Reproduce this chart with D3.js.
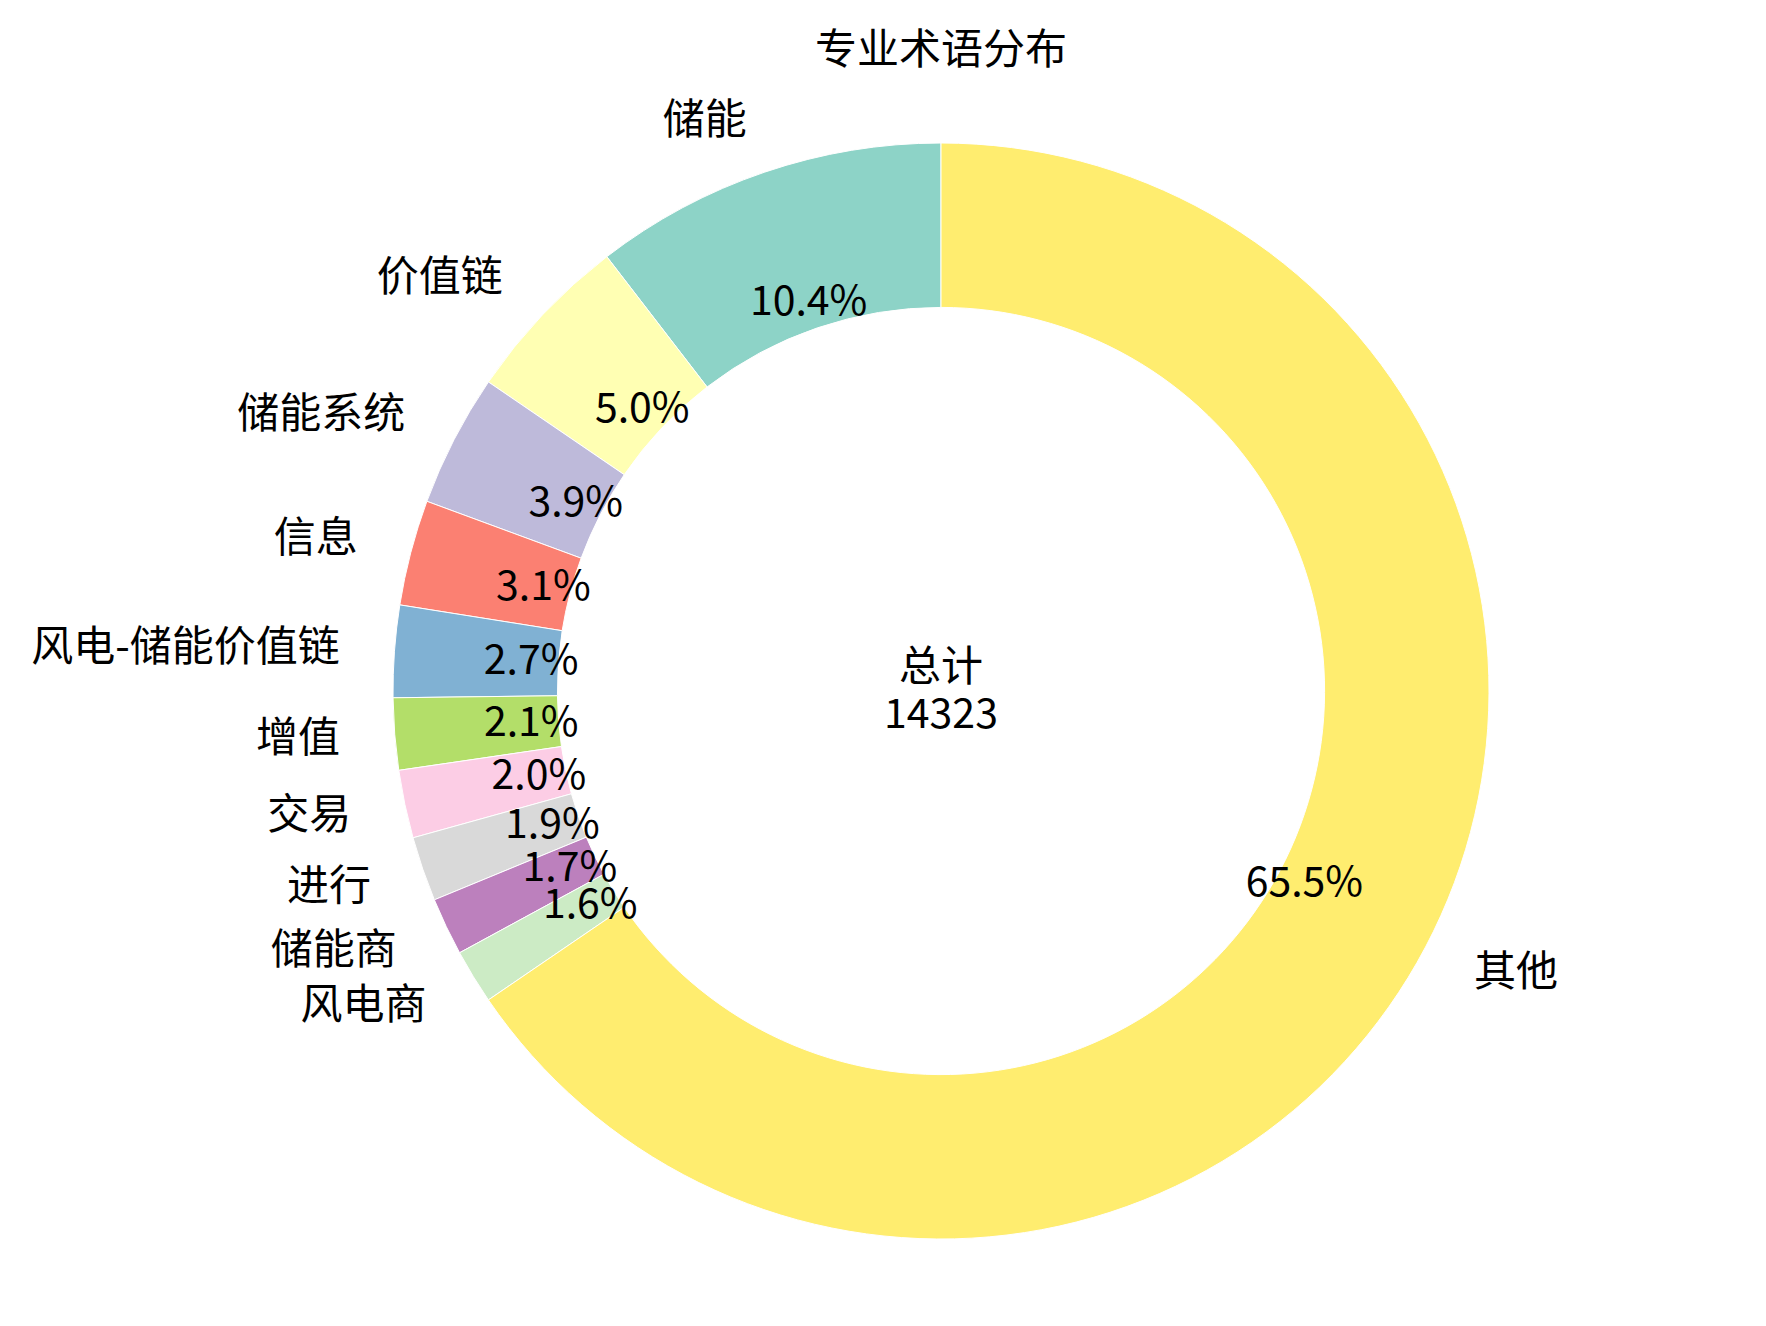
<!DOCTYPE html>
<html>
<head>
<meta charset="utf-8">
<script src="https://cdn.jsdelivr.net/npm/d3@7"></script>
<style>
  html, body { margin: 0; padding: 0; background: #fff; }
  svg { display: block; font-family: "Noto Sans CJK SC", "Noto Sans", sans-serif; }
</style>
</head>
<body>
<svg id="chart" width="1766" height="1326"></svg>
<script>
const categories = ["储能", "价值链", "储能系统", "信息", "风电-储能价值链", "增值", "交易", "进行", "储能商", "风电商", "其他"];
const counts = [1495, 720, 560, 446, 388, 303, 287, 273, 244, 230, 9377];
const colors = ["#8dd3c7", "#ffffb3", "#bebada", "#fb8072", "#80b1d3", "#b3de69", "#fccde5", "#d9d9d9", "#bc80bd", "#ccebc5", "#ffed6f"];
const title = "专业术语分布";
const totalLabel = "总计";

const WIDTH = 1766;
const HEIGHT = 1326;
const CX = 941;
const CY = 691;
const RADIUS = 548;
const INNER = RADIUS * 0.7;
const PCT_DIST = 0.75;
const LABEL_DIST = 1.1;
const LABEL_SIZE = 42;
const NUM_SIZE = 41;
const DY = -5; // nudge up, noto's central sits a bit low

const data = categories.map((c, i) => ({ category: c, count: counts[i], color: colors[i] }));
const total = d3.sum(counts);

// counterclockwise from 12 o'clock, like matplotlib startangle=90
const pieData = d3.pie().value(d => d.count).sort(null)
  .startAngle(0).endAngle(-2 * Math.PI)(data);
const arc = d3.arc().innerRadius(INNER).outerRadius(RADIUS);

const svg = d3.select("#chart");

const g = svg.append("g")
  .attr("transform", `translate(${CX}, ${CY})`);

g.selectAll("path")
  .data(pieData)
  .join("path")
  .attr("d", arc)
  .attr("fill", d => d.data.color)
  .attr("stroke", "white")
  .attr("stroke-width", 1);

const midAngle = d => (d.startAngle + d.endAngle) / 2;
const pos = (d, r) => [r * Math.sin(midAngle(d)), -r * Math.cos(midAngle(d))];

g.selectAll(".pct")
  .data(pieData)
  .join("text")
  .attr("class", "pct")
  .attr("x", d => pos(d, RADIUS * PCT_DIST)[0])
  .attr("y", d => pos(d, RADIUS * PCT_DIST)[1] + DY)
  .attr("text-anchor", "middle")
  .attr("dominant-baseline", "central")
  .style("font-size", NUM_SIZE + "px")
  .text(d => d3.format(".1f")(d.data.count / total * 100) + "%");

g.selectAll(".label")
  .data(pieData)
  .join("text")
  .attr("class", "label")
  .attr("x", d => pos(d, RADIUS * LABEL_DIST)[0])
  .attr("y", d => pos(d, RADIUS * LABEL_DIST)[1] + DY)
  .attr("text-anchor", d => pos(d, 1)[0] < 0 ? "end" : "start")
  .attr("dominant-baseline", "central")
  .style("font-size", LABEL_SIZE + "px")
  .text(d => d.data.category);

// total in the hole
g.append("text")
  .attr("x", 0).attr("y", -24 + DY)
  .attr("text-anchor", "middle")
  .attr("dominant-baseline", "central")
  .style("font-size", LABEL_SIZE + "px")
  .text(totalLabel);
g.append("text")
  .attr("x", 0).attr("y", 24 + DY)
  .attr("text-anchor", "middle")
  .attr("dominant-baseline", "central")
  .style("font-size", NUM_SIZE + "px")
  .text(total);

svg.append("text")
  .attr("x", CX)
  .attr("y", 50 + DY)
  .attr("text-anchor", "middle")
  .attr("dominant-baseline", "central")
  .style("font-size", LABEL_SIZE + "px")
  .text(title);
</script>
</body>
</html>
